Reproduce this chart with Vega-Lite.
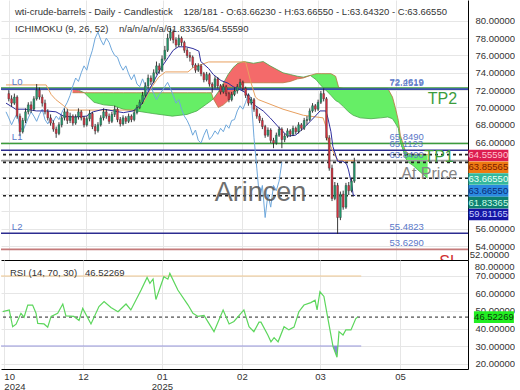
{
  "$schema": "https://vega.github.io/schema/vega-lite/v6.json",
  "padding": 0,
  "spacing": 0,
  "bounds": "flush",
  "config": {"font": "Liberation Sans", "view": {"stroke": null}, "axis": {"labelOverlap": false, "labelSeparation": 0, "labelBound": false}},
  "resolve": {"scale": {"x": "independent", "y": "independent", "color": "independent"}},
  "datasets": {
    "candles": [
      {"i":0,"o":71.6,"h":72.0,"l":70.7,"c":71.0},{"i":1,"o":71.0,"h":71.4,"l":70.1,"c":70.5},{"i":2,"o":70.5,"h":71.6,"l":70.3,"c":71.2},{"i":3,"o":71.2,"h":71.4,"l":68.7,"c":69.0},{"i":4,"o":69.0,"h":69.3,"l":66.7,"c":67.2},{"i":5,"o":67.2,"h":68.8,"l":67.0,"c":68.5},{"i":6,"o":68.5,"h":69.9,"l":68.2,"c":69.5},{"i":7,"o":69.5,"h":70.6,"l":69.2,"c":70.3},{"i":8,"o":70.3,"h":70.7,"l":69.4,"c":69.8},{"i":9,"o":69.8,"h":71.3,"l":69.6,"c":71.0},
      {"i":10,"o":71.0,"h":72.7,"l":70.8,"c":72.0},{"i":11,"o":72.0,"h":72.3,"l":70.9,"c":71.2},{"i":12,"o":71.2,"h":71.5,"l":70.1,"c":70.5},{"i":13,"o":70.5,"h":70.9,"l":69.2,"c":69.5},{"i":14,"o":69.5,"h":69.8,"l":68.5,"c":68.8},{"i":15,"o":68.8,"h":69.2,"l":67.9,"c":68.2},{"i":16,"o":68.2,"h":68.5,"l":67.2,"c":67.5},{"i":17,"o":67.5,"h":67.8,"l":66.5,"c":67.0},{"i":18,"o":67.0,"h":68.3,"l":66.8,"c":68.0},{"i":19,"o":68.0,"h":69.1,"l":67.7,"c":68.8},
      {"i":20,"o":68.8,"h":69.9,"l":68.5,"c":69.5},{"i":21,"o":69.5,"h":69.8,"l":68.1,"c":68.5},{"i":22,"o":68.5,"h":69.4,"l":68.2,"c":69.0},{"i":23,"o":69.0,"h":69.2,"l":67.9,"c":68.2},{"i":24,"o":68.2,"h":69.2,"l":68.0,"c":68.9},{"i":25,"o":68.9,"h":69.9,"l":68.6,"c":69.5},{"i":26,"o":69.5,"h":69.7,"l":68.5,"c":68.8},{"i":27,"o":68.8,"h":69.0,"l":67.7,"c":68.0},{"i":28,"o":68.0,"h":69.0,"l":67.8,"c":68.7},{"i":29,"o":68.7,"h":69.7,"l":68.4,"c":69.3},
      {"i":30,"o":69.3,"h":69.5,"l":67.5,"c":67.8},{"i":31,"o":67.8,"h":68.1,"l":66.9,"c":67.3},{"i":32,"o":67.3,"h":68.3,"l":67.1,"c":68.0},{"i":33,"o":68.0,"h":69.1,"l":67.8,"c":68.8},{"i":34,"o":68.8,"h":69.9,"l":68.5,"c":69.5},{"i":35,"o":69.5,"h":69.8,"l":68.7,"c":69.0},{"i":36,"o":69.0,"h":69.3,"l":68.1,"c":68.4},{"i":37,"o":68.4,"h":69.5,"l":68.2,"c":69.2},{"i":38,"o":69.2,"h":70.2,"l":68.9,"c":69.8},{"i":39,"o":69.8,"h":70.0,"l":68.3,"c":68.6},
      {"i":40,"o":68.6,"h":68.9,"l":67.8,"c":68.1},{"i":41,"o":68.1,"h":69.1,"l":67.9,"c":68.8},{"i":42,"o":68.8,"h":69.0,"l":68.1,"c":68.4},{"i":43,"o":68.4,"h":69.3,"l":68.2,"c":69.0},{"i":44,"o":69.0,"h":69.2,"l":68.3,"c":68.6},{"i":45,"o":68.6,"h":69.7,"l":68.4,"c":69.4},{"i":46,"o":69.4,"h":70.3,"l":69.2,"c":70.0},{"i":47,"o":70.0,"h":70.9,"l":69.8,"c":70.6},{"i":48,"o":70.6,"h":71.8,"l":70.4,"c":71.4},{"i":49,"o":71.4,"h":72.9,"l":71.2,"c":72.5},
      {"i":50,"o":72.5,"h":73.8,"l":72.2,"c":73.4},{"i":51,"o":73.4,"h":73.7,"l":72.6,"c":73.0},{"i":52,"o":73.0,"h":74.4,"l":72.8,"c":74.0},{"i":53,"o":74.0,"h":75.3,"l":73.8,"c":74.8},{"i":54,"o":74.8,"h":75.1,"l":73.9,"c":74.3},{"i":55,"o":74.3,"h":76.0,"l":74.1,"c":75.6},{"i":56,"o":75.6,"h":77.1,"l":75.4,"c":76.6},{"i":57,"o":76.6,"h":78.5,"l":76.4,"c":78.0},{"i":58,"o":78.0,"h":79.2,"l":77.7,"c":78.7},{"i":59,"o":78.7,"h":79.0,"l":77.4,"c":77.8},
      {"i":60,"o":77.8,"h":78.1,"l":76.9,"c":77.2},{"i":61,"o":77.2,"h":78.4,"l":77.0,"c":78.0},{"i":62,"o":78.0,"h":78.2,"l":77.1,"c":77.5},{"i":63,"o":77.5,"h":77.7,"l":76.3,"c":76.6},{"i":64,"o":76.6,"h":76.9,"l":75.7,"c":76.0},{"i":65,"o":76.0,"h":76.4,"l":75.3,"c":75.8},{"i":66,"o":75.8,"h":76.0,"l":74.6,"c":74.9},{"i":67,"o":74.9,"h":75.1,"l":74.0,"c":74.3},{"i":68,"o":74.3,"h":75.1,"l":74.1,"c":74.8},{"i":69,"o":74.8,"h":75.0,"l":73.6,"c":73.9},
      {"i":70,"o":73.9,"h":74.1,"l":72.9,"c":73.2},{"i":71,"o":73.2,"h":74.1,"l":73.0,"c":73.8},{"i":72,"o":73.8,"h":74.0,"l":72.4,"c":72.7},{"i":73,"o":72.7,"h":72.9,"l":71.7,"c":72.4},{"i":74,"o":72.4,"h":73.6,"l":72.2,"c":73.3},{"i":75,"o":73.3,"h":73.5,"l":72.2,"c":72.5},{"i":76,"o":72.5,"h":72.7,"l":71.5,"c":71.8},{"i":77,"o":71.8,"h":72.7,"l":71.6,"c":72.4},{"i":78,"o":72.4,"h":72.6,"l":71.3,"c":71.6},{"i":79,"o":71.6,"h":71.8,"l":70.6,"c":70.9},
      {"i":80,"o":70.9,"h":71.8,"l":70.7,"c":71.5},{"i":81,"o":71.5,"h":72.3,"l":71.3,"c":71.9},{"i":82,"o":71.9,"h":72.7,"l":71.6,"c":72.4},{"i":83,"o":72.4,"h":73.3,"l":72.2,"c":72.9},{"i":84,"o":72.9,"h":73.1,"l":71.9,"c":72.2},{"i":85,"o":72.2,"h":72.4,"l":71.1,"c":71.4},{"i":86,"o":71.4,"h":71.6,"l":70.2,"c":70.5},{"i":87,"o":70.5,"h":71.2,"l":70.3,"c":70.9},{"i":88,"o":70.9,"h":71.1,"l":69.5,"c":69.8},{"i":89,"o":69.8,"h":70.0,"l":68.7,"c":69.0},
      {"i":90,"o":69.0,"h":69.3,"l":68.2,"c":68.5},{"i":91,"o":68.5,"h":68.8,"l":67.5,"c":67.8},{"i":92,"o":67.8,"h":68.0,"l":66.5,"c":66.8},{"i":93,"o":66.8,"h":67.7,"l":66.6,"c":67.4},{"i":94,"o":67.4,"h":67.6,"l":65.9,"c":66.2},{"i":95,"o":66.2,"h":66.5,"l":65.3,"c":65.9},{"i":96,"o":65.9,"h":67.1,"l":65.7,"c":66.8},{"i":97,"o":66.8,"h":67.8,"l":66.6,"c":67.5},{"i":98,"o":67.5,"h":67.7,"l":65.3,"c":66.3},{"i":99,"o":66.3,"h":67.0,"l":66.0,"c":66.7},
      {"i":100,"o":66.7,"h":67.6,"l":66.5,"c":67.3},{"i":101,"o":67.3,"h":67.5,"l":66.6,"c":66.9},{"i":102,"o":66.9,"h":67.9,"l":66.7,"c":67.6},{"i":103,"o":67.6,"h":67.8,"l":66.9,"c":67.2},{"i":104,"o":67.2,"h":68.3,"l":67.0,"c":68.0},{"i":105,"o":68.0,"h":68.2,"l":67.3,"c":67.6},{"i":106,"o":67.6,"h":68.8,"l":67.4,"c":68.5},{"i":107,"o":68.5,"h":69.0,"l":68.0,"c":68.6},{"i":108,"o":68.6,"h":69.9,"l":68.4,"c":69.6},{"i":109,"o":69.6,"h":70.5,"l":69.4,"c":70.2},
      {"i":110,"o":70.2,"h":70.4,"l":69.5,"c":69.8},{"i":111,"o":69.8,"h":70.9,"l":69.6,"c":70.6},{"i":112,"o":70.6,"h":71.9,"l":70.4,"c":71.6},{"i":113,"o":71.6,"h":72.2,"l":70.7,"c":71.0},{"i":114,"o":71.0,"h":71.2,"l":66.2,"c":66.5},{"i":115,"o":66.5,"h":66.8,"l":62.7,"c":63.0},{"i":116,"o":63.0,"h":63.4,"l":59.2,"c":59.5},{"i":117,"o":59.5,"h":61.4,"l":59.3,"c":61.0},{"i":118,"o":61.0,"h":61.3,"l":55.4,"c":57.3},{"i":119,"o":57.3,"h":60.3,"l":57.0,"c":60.0},
      {"i":120,"o":60.0,"h":60.4,"l":58.2,"c":58.5},{"i":121,"o":58.5,"h":61.3,"l":58.3,"c":61.0},{"i":122,"o":61.0,"h":61.4,"l":59.9,"c":60.4},{"i":123,"o":60.4,"h":61.8,"l":60.2,"c":61.5},{"i":124,"o":61.5,"h":64.2,"l":61.3,"c":63.67}
    ],
    "chikou": [
      {"i":-1,"v":69.5},{"i":0,"v":68.8},{"i":1,"v":68.0},{"i":2,"v":68.7},{"i":3,"v":69.3},{"i":4,"v":67.8},{"i":5,"v":67.3},{"i":6,"v":68.0},{"i":7,"v":68.8},{"i":8,"v":69.5},{"i":9,"v":69.0},
      {"i":10,"v":68.4},{"i":11,"v":69.2},{"i":12,"v":69.8},{"i":13,"v":68.6},{"i":14,"v":68.1},{"i":15,"v":68.8},{"i":16,"v":68.4},{"i":17,"v":69.0},{"i":18,"v":68.6},{"i":19,"v":69.4},
      {"i":20,"v":70.0},{"i":21,"v":70.6},{"i":22,"v":71.4},{"i":23,"v":72.5},{"i":24,"v":73.4},{"i":25,"v":73.0},{"i":26,"v":74.0},{"i":27,"v":74.8},{"i":28,"v":74.3},{"i":29,"v":75.6},
      {"i":30,"v":76.6},{"i":31,"v":78.0},{"i":32,"v":78.7},{"i":33,"v":77.8},{"i":34,"v":77.2},{"i":35,"v":78.0},{"i":36,"v":77.5},{"i":37,"v":76.6},{"i":38,"v":76.0},{"i":39,"v":75.8},
      {"i":40,"v":74.9},{"i":41,"v":74.3},{"i":42,"v":74.8},{"i":43,"v":73.9},{"i":44,"v":73.2},{"i":45,"v":73.8},{"i":46,"v":72.7},{"i":47,"v":72.4},{"i":48,"v":73.3},{"i":49,"v":72.5},
      {"i":50,"v":71.8},{"i":51,"v":72.4},{"i":52,"v":71.6},{"i":53,"v":70.9},{"i":54,"v":71.5},{"i":55,"v":71.9},{"i":56,"v":72.4},{"i":57,"v":72.9},{"i":58,"v":72.2},{"i":59,"v":71.4},
      {"i":60,"v":70.5},{"i":61,"v":70.9},{"i":62,"v":69.8},{"i":63,"v":69.0},{"i":64,"v":68.5},{"i":65,"v":67.8},{"i":66,"v":66.8},{"i":67,"v":67.4},{"i":68,"v":66.2},{"i":69,"v":65.9},
      {"i":70,"v":66.8},{"i":71,"v":67.5},{"i":72,"v":66.3},{"i":73,"v":66.7},{"i":74,"v":67.3},{"i":75,"v":66.9},{"i":76,"v":67.6},{"i":77,"v":67.2},{"i":78,"v":68.0},{"i":79,"v":67.6},
      {"i":80,"v":68.5},{"i":81,"v":68.6},{"i":82,"v":69.6},{"i":83,"v":70.2},{"i":84,"v":69.8},{"i":85,"v":70.6},{"i":86,"v":71.6},{"i":87,"v":71.0},{"i":88,"v":66.5},{"i":89,"v":63.0},
      {"i":90,"v":59.5},{"i":91,"v":61.0},{"i":92,"v":57.3},{"i":93,"v":60.0},{"i":94,"v":58.5},{"i":95,"v":61.0},{"i":96,"v":60.4},{"i":97,"v":61.5},{"i":98,"v":63.67}
    ],
    "tenkan": [
      {"i":-1,"v":70.5},{"i":2.5,"v":69.8},{"i":6,"v":69.8},{"i":9.9,"v":69.6},{"i":13.4,"v":69.6},{"i":16.9,"v":69.5},{"i":19.7,"v":69.0},{"i":23.2,"v":68.9},{"i":27.8,"v":69.0},{"i":30.3,"v":69.5},{"i":34.1,"v":69.8},{"i":37.6,"v":69.6},{"i":41.1,"v":69.4},{"i":44.6,"v":69.6},{"i":47.5,"v":70.3},{"i":49.2,"v":71.3},{"i":52,"v":73.0},{"i":54.5,"v":74.5},{"i":57.3,"v":75.8},{"i":59,"v":76.6},{"i":60.8,"v":77.0},{"i":63.6,"v":77.0},{"i":66.1,"v":76.8},{"i":68.2,"v":76.5},{"i":68.9,"v":75.3},{"i":71.7,"v":74.5},{"i":73.4,"v":73.8},{"i":76.2,"v":73.1},{"i":78.7,"v":72.8},{"i":80.5,"v":72.4},{"i":83.3,"v":72.0},{"i":85,"v":71.7},{"i":86.8,"v":70.8},{"i":88.5,"v":70.2},{"i":91.3,"v":69.6},{"i":93.8,"v":68.8},{"i":96.6,"v":67.8},{"i":98.4,"v":67.2},{"i":100.1,"v":66.7},{"i":102.9,"v":66.8},{"i":104.7,"v":67.3},{"i":106.4,"v":67.8},{"i":108.2,"v":68.4},{"i":110,"v":69.0},{"i":111.7,"v":69.6},{"i":113.8,"v":69.6},{"i":114.5,"v":68.8},{"i":115.6,"v":67.2},{"i":116.3,"v":65.5},{"i":118,"v":63.8},{"i":119.8,"v":63.8},{"i":121.2,"v":63.5},{"i":121.9,"v":62.8},{"i":123,"v":61.2},{"i":123.6,"v":59.9},{"i":124.3,"v":59.81}
    ],
    "kijun": [
      {"i":-1,"v":72.6},{"i":13.4,"v":72.6},{"i":15.2,"v":71.5},{"i":16.9,"v":70.9},{"i":19.7,"v":70.2},{"i":21.5,"v":69.7},{"i":45.7,"v":69.7},{"i":48.2,"v":70.5},{"i":51,"v":72.2},{"i":53.8,"v":73.5},{"i":56.2,"v":74.1},{"i":64.3,"v":74.1},{"i":66.1,"v":74.6},{"i":71.7,"v":75.25},{"i":85,"v":75.25},{"i":86.8,"v":73.0},{"i":88.5,"v":71.2},{"i":89.6,"v":70.9},{"i":98.4,"v":69.8},{"i":105.7,"v":69.1},{"i":112.8,"v":68.8},{"i":113.8,"v":67.8},{"i":114.5,"v":66.2},{"i":117.3,"v":64.3},{"i":118.4,"v":63.86},{"i":124.3,"v":63.86}
    ],
    "cloud": [
      {"i":22.9,"a":72.1,"b":71.7,"s":1,"k":"r"},{"i":25,"a":72.0,"b":71.7,"s":1,"k":"r"},{"i":27.1,"a":71.7,"b":71.7,"s":1,"k":"r"},
      {"i":27.1,"a":71.7,"b":71.7,"s":2,"k":"g"},{"i":30.6,"a":70.6,"b":71.7,"s":2,"k":"g"},{"i":34.1,"a":70.3,"b":71.7,"s":2,"k":"g"},{"i":37.6,"a":70.2,"b":71.7,"s":2,"k":"g"},{"i":41.1,"a":69.8,"b":71.7,"s":2,"k":"g"},{"i":45.7,"a":69.6,"b":71.7,"s":2,"k":"g"},{"i":51.7,"a":69.3,"b":71.7,"s":2,"k":"g"},{"i":58.7,"a":69.0,"b":71.7,"s":2,"k":"g"},{"i":64,"a":69.2,"b":71.7,"s":2,"k":"g"},{"i":67.5,"a":69.6,"b":71.7,"s":2,"k":"g"},{"i":71,"a":70.4,"b":71.7,"s":2,"k":"g"},{"i":72.7,"a":70.8,"b":71.7,"s":2,"k":"g"},{"i":73.4,"a":71.0,"b":71.0,"s":2,"k":"g"},
      {"i":73.4,"a":71.0,"b":71.0,"s":3,"k":"r"},{"i":75.2,"a":71.8,"b":70.0,"s":3,"k":"r"},{"i":77,"a":72.8,"b":70.3,"s":3,"k":"r"},{"i":78.7,"a":73.8,"b":70.8,"s":3,"k":"r"},{"i":80.5,"a":74.6,"b":71.5,"s":3,"k":"r"},{"i":82.2,"a":75.1,"b":72.3,"s":3,"k":"r"},{"i":84.3,"a":75.3,"b":72.85,"s":3,"k":"r"},{"i":87.8,"a":75.1,"b":72.85,"s":3,"k":"r"},{"i":91.3,"a":75.3,"b":72.85,"s":3,"k":"r"},{"i":93.8,"a":74.8,"b":72.85,"s":3,"k":"r"},{"i":98.4,"a":74.0,"b":72.85,"s":3,"k":"r"},{"i":101,"a":73.8,"b":73.0,"s":3,"k":"r"},{"i":103.6,"a":73.6,"b":73.3,"s":3,"k":"r"},{"i":105.7,"a":73.5,"b":73.4,"s":3,"k":"r"},{"i":108.2,"a":73.7,"b":73.7,"s":3,"k":"r"},
      {"i":108.2,"a":73.7,"b":73.7,"s":4,"k":"g"},{"i":110.3,"a":73.2,"b":73.9,"s":4,"k":"g"},{"i":112.1,"a":72.5,"b":73.9,"s":4,"k":"g"},{"i":113.8,"a":72.0,"b":73.9,"s":4,"k":"g"},{"i":115.6,"a":71.4,"b":73.9,"s":4,"k":"g"},{"i":117.3,"a":70.8,"b":73.6,"s":4,"k":"g"},{"i":118.4,"a":70.6,"b":72.3,"s":4,"k":"g"},{"i":120.1,"a":70.1,"b":72.2,"s":4,"k":"g"},{"i":121.9,"a":69.5,"b":72.2,"s":4,"k":"g"},{"i":123.6,"a":69.1,"b":72.2,"s":4,"k":"g"},{"i":126.1,"a":68.8,"b":72.2,"s":4,"k":"g"},{"i":130,"a":68.7,"b":72.2,"s":4,"k":"g"},{"i":133.5,"a":68.8,"b":72.2,"s":4,"k":"g"},{"i":136,"a":68.9,"b":72.2,"s":4,"k":"g"},{"i":137.7,"a":68.7,"b":71.2,"s":4,"k":"g"},{"i":138.7,"a":68.2,"b":70.0,"s":4,"k":"g"},{"i":139.8,"a":67.6,"b":68.5,"s":4,"k":"g"},{"i":140.5,"a":66.0,"b":66.8,"s":4,"k":"g"},{"i":141.6,"a":65.0,"b":65.7,"s":4,"k":"g"},{"i":142.3,"a":64.2,"b":65.0,"s":4,"k":"g"},{"i":143.3,"a":63.7,"b":64.7,"s":4,"k":"g"},{"i":145.1,"a":63.3,"b":64.6,"s":4,"k":"g"},{"i":146.8,"a":62.8,"b":64.6,"s":4,"k":"g"},{"i":148.6,"a":62.3,"b":64.6,"s":4,"k":"g"},{"i":150.3,"a":61.83,"b":64.56,"s":4,"k":"g"}
    ],
    "levels": [
      {"v":72.25,"k":"g2"},{"v":72.12,"k":"n2"},{"v":65.849,"k":"g1"},{"v":65.07,"k":"n1"},{"v":64.5559,"k":"d"},{"v":63.849,"k":"gr"},{"v":63.6655,"k":"d"},{"v":61.83365,"k":"d"},{"v":59.81165,"k":"d"},{"v":55.4823,"k":"n1"},{"v":53.629,"k":"sl"}
    ],
    "lvlLabels": [
      {"v":72.25,"t":"72.4619"},{"v":72.12,"t":"72.2519"},{"v":65.849,"t":"65.8490"},{"v":65.07,"t":"65.1123"},{"v":63.849,"t":"63.8490"},{"v":55.4823,"t":"55.4823"},{"v":53.629,"t":"53.6290"}
    ],
    "tags": [{"v":72.25,"t":"L0"},{"v":65.849,"t":"L1"},{"v":55.4823,"t":"L2"}],
    "stack": [
      {"k":"senkouB","v":64.5559},{"k":"kijun","v":63.85565},{"k":"close","v":63.6655},{"k":"chikou","v":63.6655},{"k":"senkouA","v":61.83365},{"k":"tenkan","v":59.81165}
    ],
    "rsi": [
      {"i":-0.4,"v":49.6},{"i":1.9,"v":50.6},{"i":3.1,"v":41.0},{"i":4.3,"v":42.5},{"i":6.0,"v":48.7},{"i":7.1,"v":46.5},{"i":8.4,"v":53.4},{"i":10.1,"v":53.4},{"i":11.3,"v":48.7},{"i":11.9,"v":42.9},{"i":14.1,"v":42.6},{"i":15.4,"v":40.8},{"i":16.6,"v":46.9},{"i":18.9,"v":48.7},{"i":20.7,"v":54.0},{"i":21.8,"v":47.2},{"i":24.6,"v":46.9},{"i":26.4,"v":44.6},{"i":27.7,"v":51.5},{"i":30.6,"v":42.6},{"i":33.4,"v":52.5},{"i":35.2,"v":55.4},{"i":37.6,"v":52.0},{"i":40.1,"v":49.6},{"i":42.9,"v":54.0},{"i":44.6,"v":50.6},{"i":48.2,"v":62.0},{"i":50.3,"v":69.2},{"i":51.3,"v":65.8},{"i":52.4,"v":68.3},{"i":53.4,"v":56.6},{"i":56.2,"v":69.6},{"i":57.6,"v":68.2},{"i":58.3,"v":71.5},{"i":61.1,"v":62.0},{"i":64.7,"v":53.4},{"i":66.4,"v":48.7},{"i":68.2,"v":46.9},{"i":70.3,"v":47.5},{"i":73.8,"v":38.2},{"i":77,"v":50.6},{"i":79.1,"v":42.6},{"i":80.8,"v":44.0},{"i":84.3,"v":50.6},{"i":86.1,"v":41.0},{"i":87.8,"v":38.2},{"i":89.6,"v":43.6},{"i":90.3,"v":43.6},{"i":92.7,"v":36.3},{"i":93.8,"v":32.4},{"i":94.9,"v":34.8},{"i":96.3,"v":32.4},{"i":98.4,"v":41.0},{"i":100.1,"v":39.2},{"i":101.9,"v":40.8},{"i":103.6,"v":49.6},{"i":105.4,"v":53.4},{"i":107.8,"v":54.8},{"i":109.3,"v":56.2},{"i":110,"v":50.6},{"i":111,"v":61.0},{"i":112.4,"v":58.3},{"i":113.8,"v":45.7},{"i":115.6,"v":29.6},{"i":117,"v":23.6},{"i":117.7,"v":38.2},{"i":119.1,"v":36.3},{"i":120.1,"v":39.2},{"i":121.9,"v":39.2},{"i":123.6,"v":45.7},{"i":124.3,"v":46.52}
    ],
    "rsiLow": [{"i":115.55,"v":30},{"i":115.6,"v":29.6},{"i":117,"v":23.6},{"i":117.3,"v":30}]
  },
  "vconcat": [
    {
      "width": 467,
      "height": 260,
      "resolve": {"scale": {"y": "independent", "color": "independent"}},
      "layer": [
        {
          "layer": [
            {
              "data": {"name": "cloud"},
              "mark": {"type": "area", "opacity": 1},
              "encoding": {
                "x": {"field": "i", "type": "quantitative", "title": null, "scale": {"domain": [-1, 163], "nice": false, "zero": false},
                      "axis": {"values": [0, 27.8, 55.5, 83.6, 111, 139.1], "tickCount": 30, "labels": false, "ticks": false, "domain": true, "domainColor": "#000000", "grid": true, "gridColor": "#e6e6e6", "title": null}},
                "y": {"field": "a", "type": "quantitative", "title": null, "stack": null, "scale": {"domain": [52.4, 82.4], "nice": false, "zero": false, "clamp": true},
                      "axis": {"orient": "right", "values": [54, 56, 58, 60, 62, 64, 66, 68, 70, 72, 74, 76, 78, 80], "tickCount": 40, "format": ".5f", "labelExpr": "datum.value > 57 && datum.value < 65 ? '' : datum.label", "labelFontSize": 9.5, "labelColor": "#333333", "labelPadding": 7, "ticks": false, "domain": true, "domainColor": "#000000", "grid": true, "gridColor": "#e6e6e6", "title": null, "labelOverlap": false, "labelSeparation": 0}},
                "y2": {"field": "b"},
                "color": {"field": "k", "type": "nominal", "scale": {"domain": ["g", "r"], "range": ["#66ee66", "#f46a6a"]}, "legend": null},
                "detail": {"field": "s", "type": "nominal"}
              }
            },
            {
              "data": {"name": "cloud"},
              "mark": {"type": "line", "color": "#4aa84a", "strokeWidth": 0.8},
              "encoding": {"x": {"field": "i", "type": "quantitative", "title": null}, "y": {"field": "a", "type": "quantitative", "title": null}}
            },
            {
              "data": {"name": "cloud"},
              "mark": {"type": "line", "color": "#b8763e", "strokeWidth": 0.8},
              "encoding": {"x": {"field": "i", "type": "quantitative", "title": null}, "y": {"field": "b", "type": "quantitative", "title": null}}
            },
            {
              "data": {"name": "levels"},
              "mark": {"type": "rule"},
              "encoding": {
                "y": {"field": "v", "type": "quantitative", "title": null},
                "stroke": {"field": "k", "type": "nominal", "scale": {"domain": ["g2", "n2", "g1", "n1", "d", "gr", "sl"], "range": ["#3c9c3c", "#3a4cb0", "#3c9c3c", "#2c2c90", "#222222", "#9a9a9a", "#c47a7a"]}, "legend": null},
                "strokeDash": {"field": "k", "type": "nominal", "scale": {"domain": ["g2", "n2", "g1", "n1", "d", "gr", "sl"], "range": [[1, 0], [1, 0], [1, 0], [1, 0], [3, 3], [1, 0], [1, 0]]}, "legend": null},
                "strokeWidth": {"field": "k", "type": "ordinal", "scale": {"domain": ["g2", "n2", "g1", "n1", "d", "gr", "sl"], "range": [1.6, 1.6, 1.4, 1.2, 1, 1, 2]}, "legend": null}
              }
            },
            {
              "data": {"name": "chikou"},
              "mark": {"type": "line", "color": "#6fa8dc", "strokeWidth": 1},
              "encoding": {"x": {"field": "i", "type": "quantitative", "title": null}, "y": {"field": "v", "type": "quantitative", "title": null}}
            },
            {
              "data": {"name": "kijun"},
              "mark": {"type": "line", "color": "#e8a060", "strokeWidth": 1},
              "encoding": {"x": {"field": "i", "type": "quantitative", "title": null}, "y": {"field": "v", "type": "quantitative", "title": null}}
            },
            {
              "data": {"name": "tenkan"},
              "mark": {"type": "line", "color": "#2e2e9e", "strokeWidth": 1},
              "encoding": {"x": {"field": "i", "type": "quantitative", "title": null}, "y": {"field": "v", "type": "quantitative", "title": null}}
            },
            {
              "data": {"name": "candles"},
              "mark": {"type": "rule", "color": "#222222", "strokeWidth": 0.9},
              "encoding": {"x": {"field": "i", "type": "quantitative", "title": null}, "y": {"field": "l", "type": "quantitative", "title": null}, "y2": {"field": "h"}}
            },
            {
              "data": {"name": "candles"},
              "mark": {"type": "bar", "width": 1.8, "stroke": "#333333", "strokeWidth": 0.4},
              "encoding": {
                "x": {"field": "i", "type": "quantitative", "title": null},
                "y": {"field": "o", "type": "quantitative", "title": null},
                "y2": {"field": "c"},
                "color": {"condition": {"test": "datum.c >= datum.o", "value": "#1f9e6e"}, "value": "#e0303f"}
              }
            },
            {
              "data": {"name": "lvlLabels"},
              "mark": {"type": "text", "align": "left", "baseline": "middle", "dy": -6, "fontSize": 9.5, "color": "#5a78c8"},
              "encoding": {"x": {"datum": 136.6}, "y": {"field": "v", "type": "quantitative", "title": null}, "text": {"field": "t"}}
            },
            {
              "data": {"name": "tags"},
              "mark": {"type": "text", "align": "left", "baseline": "middle", "dy": -6, "fontSize": 9.5, "color": "#5a78c8"},
              "encoding": {"x": {"datum": 1.1}, "y": {"field": "v", "type": "quantitative", "title": null}, "text": {"field": "t"}}
            },
            {
              "data": {"values": [{}]},
              "mark": {"type": "text", "align": "center", "baseline": "middle", "fontSize": 27, "color": "#555555", "opacity": 0.85},
              "encoding": {"x": {"datum": 90.3}, "y": {"datum": 60.13}, "text": {"value": "Arincen"}}
            },
            {
              "data": {"values": [{}]},
              "mark": {"type": "text", "align": "center", "baseline": "middle", "fontSize": 16, "color": "#3c9c3c"},
              "encoding": {"x": {"datum": 155.6}, "y": {"datum": 70.98}, "text": {"value": "TP2"}}
            },
            {
              "data": {"values": [{}]},
              "mark": {"type": "text", "align": "center", "baseline": "middle", "fontSize": 16, "color": "#3c9c3c"},
              "encoding": {"x": {"datum": 154.4}, "y": {"datum": 64.29}, "text": {"value": "TP1"}}
            },
            {
              "data": {"values": [{}]},
              "mark": {"type": "text", "align": "center", "baseline": "middle", "fontSize": 16, "color": "#858585"},
              "encoding": {"x": {"datum": 150.9}, "y": {"datum": 62.38}, "text": {"value": "At Price"}}
            },
            {
              "data": {"values": [{}]},
              "mark": {"type": "text", "align": "left", "baseline": "top", "fontSize": 16, "color": "#d03030", "clip": true},
              "encoding": {"x": {"datum": 154.5}, "y": {"datum": 53.04}, "text": {"value": "SL"}}
            },
            {
              "data": {"values": [{}]},
              "mark": {"type": "text", "align": "left", "baseline": "middle", "dx": 9, "fontSize": 9.5, "color": "#333333"},
              "encoding": {"x": {"datum": -1}, "y": {"datum": 81.02}, "text": {"value": "wti-crude-barrels - Daily - Candlestick\u00a0\u00a0\u00a0\u00a0128/181 - O:63.66230 - H:63.66550 - L:63.64320 - C:63.66550"}}
            },
            {
              "data": {"values": [{}]},
              "mark": {"type": "text", "align": "left", "baseline": "middle", "dx": 9, "fontSize": 9.5, "color": "#333333"},
              "encoding": {"x": {"datum": -1}, "y": {"datum": 79.0}, "text": {"value": "ICHIMOKU (9, 26, 52)\u00a0\u00a0\u00a0\u00a0n/a/n/a/n/a/61.83365/64.55590"}}
            },
            {
              "data": {"values": [{}]},
              "mark": {"type": "text", "align": "left", "baseline": "bottom", "dy": 0, "fontSize": 9.5, "color": "#333333"},
              "encoding": {"x": {"datum": 165.4}, "y": {"datum": 52}, "text": {"value": "52.00000"}}
            }
          ]
        },
        {
          "data": {"name": "stack"},
          "transform": [{"window": [{"op": "row_number", "as": "r"}], "sort": [{"field": "v", "order": "descending"}, {"field": "k", "order": "descending"}]}],
          "layer": [
            {
              "mark": {"type": "point", "shape": "M-1,-0.29H1V0.29H-1Z", "size": 1600, "filled": true, "opacity": 1, "strokeWidth": 0},
              "encoding": {
                "x": {"datum": 172.1},
                "y": {"field": "r", "type": "quantitative", "scale": {"domain": [-12.18, 9.86], "reverse": true, "nice": false, "zero": false}, "axis": null},
                "fill": {"field": "k", "type": "nominal", "scale": {"domain": ["senkouB", "kijun", "close", "chikou", "senkouA", "tenkan"], "range": ["#dc1e50", "#ee7a12", "#33b89c", "#2b8ae0", "#0d8070", "#1515a5"]}, "legend": null}
              }
            },
            {
              "mark": {"type": "text", "align": "center", "baseline": "middle", "fontSize": 9.5},
              "encoding": {
                "x": {"datum": 172.1},
                "y": {"field": "r", "type": "quantitative", "axis": null},
                "text": {"field": "v", "type": "quantitative", "format": ".5f"},
                "color": {"field": "k", "type": "nominal", "scale": {"domain": ["senkouB", "kijun", "close", "chikou", "senkouA", "tenkan"], "range": ["#ffc4d0", "#7a1a00", "#eafff8", "#0c2a78", "#c8ffe8", "#c8d0ff"]}, "legend": null}
              }
            }
          ]
        }
      ]
    },
    {
      "width": 467,
      "height": 109,
      "layer": [
        {
          "data": {"values": [{}]},
          "mark": {"type": "rule", "color": "#f0c890", "strokeWidth": 1.2},
          "encoding": {
            "x": {"datum": -1, "type": "quantitative", "scale": {"domain": [-1, 163], "nice": false, "zero": false},
                  "axis": {"values": [0, 27.8, 55.5, 83.6, 111, 139.1], "tickCount": 30, "labelExpr": "datum.value < 10 ? ['10','2024'] : datum.value < 40 ? '12' : datum.value < 70 ? ['01','2025'] : datum.value < 100 ? '02' : datum.value < 120 ? '03' : '05'", "labelFlush": 12, "labelOverlap": false, "ticks": false, "domain": true, "domainColor": "#000000", "grid": true, "gridColor": "#e6e6e6", "labelFontSize": 9.5, "labelColor": "#333333", "labelPadding": 2, "labelLineHeight": 10, "title": null}},
            "x2": {"datum": 125.5},
            "y": {"datum": 70, "type": "quantitative", "scale": {"domain": [16.86, 79.14], "nice": false, "zero": false, "clamp": true},
                  "axis": {"orient": "right", "values": [20, 30, 40, 50, 60, 70], "tickCount": 30, "format": ".5f", "labelFontSize": 9.5, "labelColor": "#333333", "labelPadding": 7, "ticks": false, "domain": true, "domainColor": "#000000", "grid": true, "gridColor": "#e6e6e6", "title": null, "labelOverlap": false, "labelSeparation": 0}}
          }
        },
        {
          "data": {"values": [{}]},
          "mark": {"type": "rule", "color": "#9696dc", "strokeWidth": 1.2},
          "encoding": {"x": {"datum": -1}, "x2": {"datum": 125.5}, "y": {"datum": 30}}
        },
        {
          "data": {"values": [{}]},
          "mark": {"type": "rule", "color": "#222222", "strokeWidth": 1, "strokeDash": [3, 3]},
          "encoding": {"y": {"datum": 46.52269}}
        },
        {
          "data": {"name": "rsiLow"},
          "mark": {"type": "area", "color": "#8a8ad8"},
          "encoding": {"x": {"field": "i", "type": "quantitative", "title": null}, "y": {"field": "v", "type": "quantitative", "title": null}, "y2": {"datum": 30}}
        },
        {
          "data": {"name": "rsi"},
          "mark": {"type": "line", "color": "#5cd65c", "strokeWidth": 1.2},
          "encoding": {"x": {"field": "i", "type": "quantitative", "title": null}, "y": {"field": "v", "type": "quantitative", "title": null}}
        },
        {
          "data": {"values": [{}]},
          "mark": {"type": "text", "align": "left", "baseline": "middle", "dx": 9, "fontSize": 9.5, "color": "#333333"},
          "encoding": {"x": {"datum": -1}, "y": {"datum": 71.71}, "text": {"value": "RSI (14, 70, 30)\u00a0\u00a0\u00a046.52269"}}
        },
        {
          "data": {"values": [{}]},
          "mark": {"type": "point", "shape": "M-1,-0.29H1V0.29H-1Z", "size": 1600, "filled": true, "opacity": 1, "strokeWidth": 0, "fill": "#22ee22"},
          "encoding": {"x": {"datum": 172.1}, "y": {"datum": 46.52269}}
        },
        {
          "data": {"values": [{}]},
          "mark": {"type": "text", "align": "center", "baseline": "middle", "fontSize": 9.5, "color": "#0a3a0a"},
          "encoding": {"x": {"datum": 172.1}, "y": {"datum": 46.52269}, "text": {"value": "46.52269"}}
        },
        {
          "data": {"values": [{}]},
          "mark": {"type": "text", "align": "left", "baseline": "top", "dy": 2, "fontSize": 9.5, "color": "#333333"},
          "encoding": {"x": {"datum": 165.4}, "y": {"datum": 80}, "text": {"value": "80.00000"}}
        }
      ]
    }
  ]
}
